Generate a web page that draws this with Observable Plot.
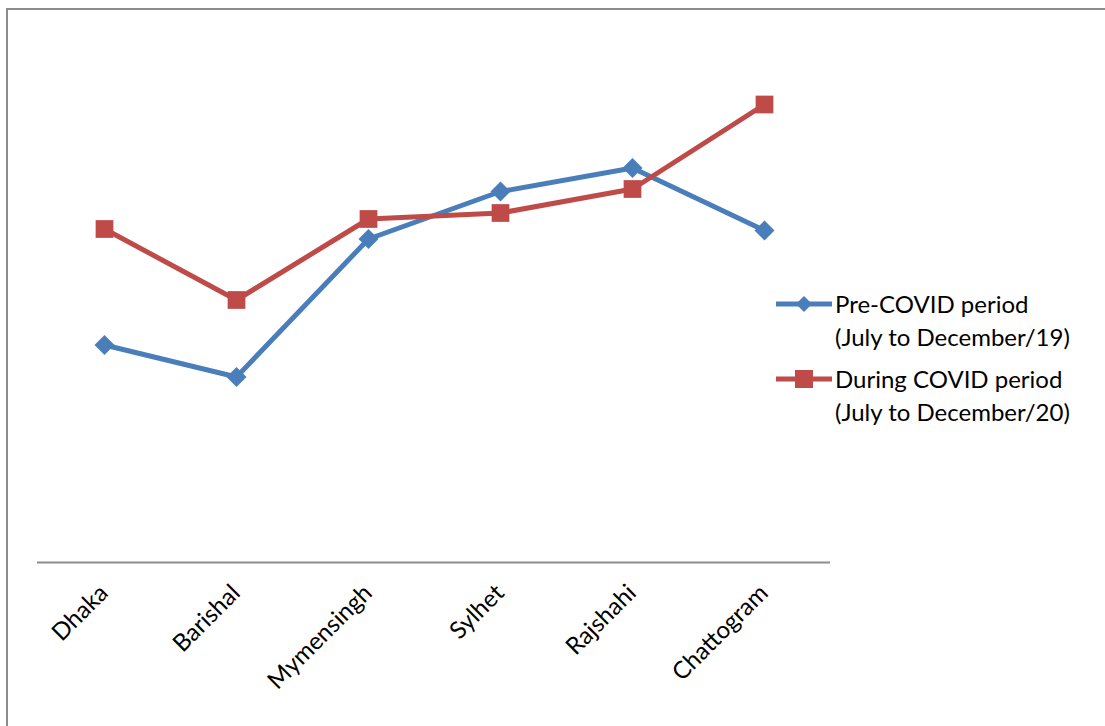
<!DOCTYPE html>
<html>
<head>
<meta charset="utf-8">
<script src="https://cdn.jsdelivr.net/npm/d3@7"></script>
<script src="https://cdn.jsdelivr.net/npm/@observablehq/plot@0.6"></script>
<style>
  html, body { margin: 0; padding: 0; background: #fff; }
  body { width: 1105px; height: 726px; overflow: hidden; position: relative; font-family: Lato, "Open Sans", sans-serif; }
  #frame { position: absolute; left: 6px; top: 8px; width: 1200px; height: 800px;
           border-left: 2px solid #8c8c8c; border-top: 2px solid #8c8c8c; }
  #chart { position: absolute; left: 0; top: 0; }
  #legend { position: absolute; left: 776px; top: 287px; color: #000; font-size: 24px; line-height: 33px; }
  .item { display: flex; align-items: flex-start; margin-bottom: 9px; }
  .item svg { flex: none; margin-top: 6px; margin-right: 3px; }
</style>
</head>
<body>
<div id="frame"></div>
<div id="chart"></div>
<div id="legend"></div>
<script>
// Regions along the x axis
const regions = ["Dhaka", "Barishal", "Mymensingh", "Sylhet", "Rajshahi", "Chattogram"];

// Series values (no value axis shown; relative units)
const preCovid = [43.5, 37.1, 64.7, 74.2, 78.9, 66.4];
const duringCovid = [66.7, 52.5, 68.7, 69.9, 74.7, 91.6];

const seriesNames = [
  "Pre-COVID period\n(July to December/19)",
  "During COVID period\n(July to December/20)"
];
const seriesColors = ["#4a7ebb", "#be4b48"];

const pre = regions.map((r, i) => ({region: r, value: preCovid[i]}));
const during = regions.map((r, i) => ({region: r, value: duringCovid[i]}));

const chart = Plot.plot({
  width: 1105,
  height: 726,
  marginLeft: 37,
  marginRight: 275,
  marginTop: 62,
  marginBottom: 164,
  style: {background: "transparent", fontFamily: "Lato, 'Open Sans', sans-serif"},
  x: {type: "point", domain: regions, padding: 0.5, axis: null},
  y: {domain: [0, 100], axis: null},
  marks: [
    Plot.ruleY([0], {stroke: "#8c8c8c", strokeWidth: 2}),
    Plot.line(pre, {x: "region", y: "value", stroke: seriesColors[0], strokeWidth: 5, strokeLinejoin: "round"}),
    Plot.line(during, {x: "region", y: "value", stroke: seriesColors[1], strokeWidth: 5, strokeLinejoin: "round"}),
    Plot.dot(pre, {x: "region", y: "value", symbol: "diamond2", r: 9, fill: seriesColors[0], stroke: null}),
    Plot.dot(during, {x: "region", y: "value", symbol: "square", r: 10, fill: seriesColors[1], stroke: null}),
    Plot.text(regions, {
      x: d => d, y: 0, text: d => d,
      rotate: -45, textAnchor: "end", lineAnchor: "bottom",
      dx: 5, dy: 32, fontSize: 24, fill: "#000"
    })
  ]
});
document.getElementById("chart").appendChild(chart);

// Legend
const legend = d3.select("#legend");
seriesNames.forEach((name, i) => {
  const item = legend.append("div").attr("class", "item");
  const sw = item.append("svg").attr("width", 56).attr("height", 22);
  sw.append("line").attr("x1", 0).attr("x2", 56).attr("y1", 11).attr("y2", 11)
    .attr("stroke", seriesColors[i]).attr("stroke-width", 5);
  if (i === 0) {
    sw.append("path").attr("d", "M28,3L36,11L28,19L20,11Z").attr("fill", seriesColors[i]);
  } else {
    sw.append("rect").attr("x", 19).attr("y", 2).attr("width", 18).attr("height", 18).attr("fill", seriesColors[i]);
  }
  const txt = item.append("div");
  name.split("\n").forEach(line => txt.append("div").text(line));
});
</script>
</body>
</html>
